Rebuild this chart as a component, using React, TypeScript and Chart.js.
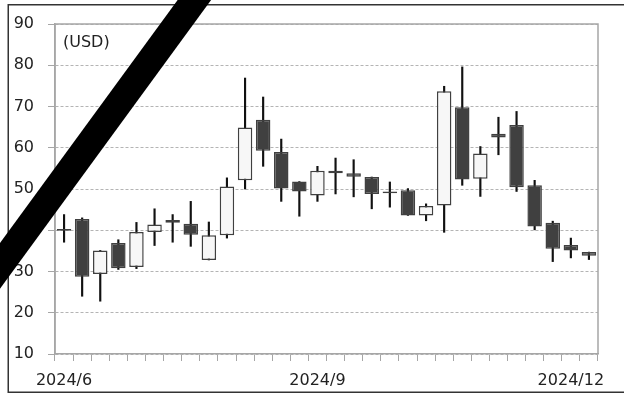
import React, { useEffect, useRef } from "react";
import { Chart, registerables } from "chart.js";

Chart.register(...registerables);

// Weekly candles, 2024/6 .. 2024/12 (30 weeks)
const xTickLabels = [
  "2024/6", "", "", "", "", "", "", "", "", "", "", "", "", "",
  "2024/9", "", "", "", "", "", "", "", "", "", "", "", "", "",
  "2024/12", "",
];

const opens = [40.3, 42.7, 29.4, 36.9, 31.1, 39.6, 42.5, 41.6, 32.8, 38.8, 52.1, 66.8, 59.0, 51.8, 48.4, 54.4, 53.8, 52.9, 49.4, 49.7, 43.6, 46.0, 69.8, 52.5, 63.4, 65.5, 50.9, 41.8, 36.4, 34.7];
const closes = [39.9, 28.7, 35.1, 30.8, 39.6, 41.4, 41.8, 38.9, 38.8, 50.6, 64.9, 59.3, 50.1, 49.4, 54.4, 53.8, 53.0, 48.8, 49.0, 43.6, 45.9, 73.7, 52.3, 58.6, 62.5, 50.4, 40.9, 35.5, 35.1, 33.8];
const highs = [43.8, 43.0, 35.1, 37.7, 41.9, 45.2, 43.8, 47.0, 42.0, 52.7, 76.9, 72.3, 62.1, 51.8, 55.5, 57.5, 57.1, 52.9, 51.7, 50.1, 46.4, 74.9, 79.6, 60.3, 67.4, 68.8, 52.1, 42.2, 38.1, 34.7];
const lows = [37.1, 24.0, 22.8, 30.5, 30.7, 36.3, 37.1, 36.1, 32.8, 38.1, 50.0, 55.5, 47.0, 43.4, 47.0, 48.8, 48.1, 45.2, 45.6, 43.6, 42.3, 39.5, 50.9, 48.2, 58.3, 49.4, 40.1, 32.4, 33.3, 32.9];

const yMin = 10;
const yMax = 90;
const yStep = 10;
const unitLabel = "(USD)";

const FONT = "'DejaVu Sans', Verdana, sans-serif";
const TEXT = "#222222";
const AXIS = "#a6a6a6";
const DARK = "#404040";
const LIGHT = "#f7f7f7";

export default function App() {
  const ref = useRef<HTMLCanvasElement>(null);

  useEffect(() => {
    const canvas = ref.current;
    if (!canvas) return;

    const bodies = opens.map((o, i) => [o, closes[i]]);
    const wicks = lows.map((l, i) => [l, highs[i]]);
    const bodyColors = opens.map((o, i) => (o > closes[i] ? DARK : LIGHT));

    const decor = {
      id: "decor",
      afterDraw(chart: any) {
        const c = chart.ctx as CanvasRenderingContext2D;
        const a = chart.chartArea;
        c.save();
        // plot frame
        c.strokeStyle = AXIS;
        c.lineWidth = 1.5;
        c.beginPath();
        c.moveTo(a.left, a.bottom);
        c.lineTo(a.left, a.top);
        c.lineTo(a.right, a.top);
        c.lineTo(a.right, a.bottom);
        c.stroke();
        // unit label
        c.fillStyle = TEXT;
        c.font = `16px ${FONT}`;
        c.textAlign = "left";
        c.textBaseline = "middle";
        c.fillText(unitLabel, a.left + 8, a.top + 19);
        // outer frame
        c.strokeStyle = "#333333";
        c.lineWidth = 1.5;
        c.beginPath();
        c.moveTo(700, 4.75);
        c.lineTo(8.25, 4.75);
        c.lineTo(8.25, 392.25);
        c.lineTo(700, 392.25);
        c.stroke();
        // diagonal band
        c.strokeStyle = "#000000";
        c.lineWidth = 27;
        c.lineCap = "butt";
        c.beginPath();
        c.moveTo(209, -20);
        c.lineTo(-25, 300);
        c.stroke();
        c.restore();
      },
    };

    const chart = new Chart(canvas, {
      type: "bar",
      data: {
        labels: xTickLabels,
        datasets: [
          {
            label: "body",
            data: bodies as any,
            backgroundColor: bodyColors,
            borderColor: DARK,
            borderWidth: 1.5,
            borderSkipped: false,
            categoryPercentage: 1,
            barPercentage: 0.8,
            grouped: false,
            order: 0,
          },
          {
            label: "wick",
            data: wicks as any,
            backgroundColor: "#111111",
            borderWidth: 0,
            barThickness: 1.5,
            grouped: false,
            order: 1,
          },
        ],
      },
      options: {
        responsive: false,
        animation: false,
        devicePixelRatio: 1,
        layout: { padding: { left: 8, right: 26, top: 24, bottom: 0 } },
        plugins: {
          legend: { display: false },
          tooltip: { enabled: false },
          title: { display: false },
        },
        scales: {
          x: {
            type: "category",
            offset: true,
            grid: {
              offset: true,
              drawOnChartArea: false,
              drawTicks: true,
              tickLength: 7,
              color: AXIS,
              lineWidth: 1,
            },
            border: { display: true, color: AXIS, width: 1.5 },
            ticks: {
              autoSkip: false,
              maxRotation: 0,
              minRotation: 0,
              color: TEXT,
              font: { size: 16, family: FONT },
              padding: 10,
            },
            afterFit(s: any) {
              s.height = 40;
            },
          },
          y: {
            min: yMin,
            max: yMax,
            ticks: {
              stepSize: yStep,
              color: TEXT,
              font: { size: 16, family: FONT },
              padding: 14,
            },
            grid: {
              color: "#b4b4b4",
              lineWidth: 1,
              tickLength: 7,
              tickColor: AXIS,
              tickBorderDash: [],
            },
            border: { display: true, color: AXIS, width: 1.5, dash: [3, 2] },
            afterFit(s: any) {
              s.width = 47;
            },
          },
        },
      },
      plugins: [decor],
    });

    return () => chart.destroy();
  }, []);

  return (
    <div style={{ position: "fixed", left: 0, top: 0, width: 624, height: 394, background: "#ffffff" }}>
      <canvas ref={ref} width={624} height={394} style={{ display: "block" }} />
    </div>
  );
}
